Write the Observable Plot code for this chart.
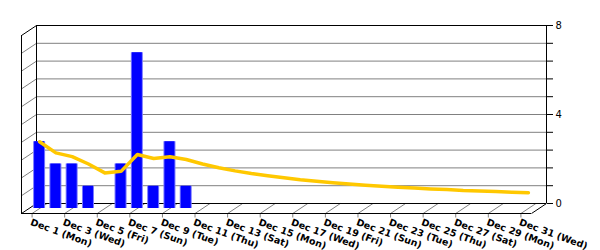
<!DOCTYPE html>
<html>
<head>
<meta charset="utf-8">
<script src="https://cdn.jsdelivr.net/npm/d3@7"></script>
<script src="https://cdn.jsdelivr.net/npm/@observablehq/plot@0.6"></script>
<style>
  html, body { margin: 0; padding: 0; background: #fff; }
  #chart { width: 600px; height: 250px; }
</style>
</head>
<body>
<div id="chart"></div>
<script>
// ---- data ----
const days = [1,2,3,4,5,6,7,8,9,10,11,12,13,14,15,16,17,18,19,20,21,22,23,24,25,26,27,28,29,30,31];
const counts = [3,2,2,1,0,2,7,1,3,1,0,0,0,0,0,0,0,0,0,0,0,0,0,0,0,0,0,0,0,0,0];
const average = [3,2.5,2.33,2,1.6,1.67,2.43,2.25,2.33,2.2,2,1.83,1.69,1.57,1.47,1.38,1.29,1.22,1.16,1.1,1.05,1,0.96,0.92,0.88,0.85,0.81,0.79,0.76,0.73,0.71];
const labelDays = [1,3,5,7,9,11,13,15,17,19,21,23,25,27,29,31];
const labelTexts = ["Dec 1 (Mon)","Dec 3 (Wed)","Dec 5 (Fri)","Dec 7 (Sun)","Dec 9 (Tue)","Dec 11 (Thu)","Dec 13 (Sat)","Dec 15 (Mon)","Dec 17 (Wed)","Dec 19 (Fri)","Dec 21 (Sun)","Dec 23 (Tue)","Dec 25 (Thu)","Dec 27 (Sat)","Dec 29 (Mon)","Dec 31 (Wed)"];
const yTicks = [0,0.8,1.6,2.4,3.2,4,4.8,5.6,6.4,7.2,8];
const yLabels = [0,4,8];

// ---- layout ----
const W = 600, H = 250, ML = 36, MR = 54, MT = 25, MB = 47;
const X0 = 0.35, X1 = 31.65, Y0 = 0, Y1 = 8;
const kx = (W - ML - MR) / (X1 - X0);
const ky = (H - MT - MB) / (Y1 - Y0);
const DEPTH_X = 15, DEPTH_Y = 10;
const ddx = DEPTH_X / kx, ddy = DEPTH_Y / ky;

const table = days.map((d, i) => ({day: d, count: counts[i], avg: average[i]}));
const bars = table.filter(d => d.count > 0);
const labels = labelDays.map((d, i) => ({day: d, text: labelTexts[i]}));
const innerTicks = yTicks.filter(v => v !== Y0 && v !== Y1);

const grid = "#808080";
const half1 = 6 / kx, half2 = 5 / kx;

const chart = Plot.plot({
  width: W, height: H,
  marginLeft: ML, marginRight: MR, marginTop: MT, marginBottom: MB,
  style: {fontFamily: "DejaVu Sans", fontSize: "10px", background: "white", overflow: "visible"},
  x: {domain: [X0, X1], axis: null},
  y: {domain: [Y0, Y1], axis: "right", ticks: yTicks, tickSize: 6, tickPadding: 3,
      tickFormat: v => yLabels.includes(v) ? String(v) : "", label: null},
  marks: [
    // back wall grid
    Plot.ruleY(innerTicks, {x1: X0, x2: X1, stroke: grid}),
    // left wall grid diagonals
    Plot.link(innerTicks, {x1: X0, y1: v => v, x2: X0 - ddx, y2: v => v - ddy, stroke: grid}),
    // floor diagonals and ticks
    Plot.link(labelDays, {x1: d => d, y1: 0, x2: d => d - ddx, y2: -ddy, stroke: grid}),
    Plot.link(labelDays, {x1: d => d - ddx, y1: -ddy, x2: d => d - ddx, y2: -ddy - 4 / ky, stroke: grid}),
    // frame edges
    Plot.ruleY([Y0, Y1], {x1: X0, x2: X1, stroke: "black"}),
    Plot.ruleX([X0, X1], {y1: Y0, y2: Y1, stroke: "black"}),
    Plot.ruleX([X0], {y1: Y0, y2: Y1, dx: -DEPTH_X, dy: DEPTH_Y, stroke: "black"}),
    Plot.ruleY([Y0], {x1: X0, x2: X1, dx: -DEPTH_X, dy: DEPTH_Y, stroke: "black"}),
    Plot.link([[X0, Y1], [X0, Y0], [X1, Y0]], {x1: p => p[0], y1: p => p[1], x2: p => p[0] - ddx, y2: p => p[1] - ddy, stroke: "black"}),
    // bars (mid depth)
    Plot.rect(bars, {x1: d => d.day - half1, x2: d => d.day + half1, y1: 0, y2: "count", dx: -DEPTH_X / 2, dy: DEPTH_Y / 2, fill: "#7878ff"}),
    Plot.rect(bars, {x1: d => d.day - half2, x2: d => d.day + half2, y1: 0, y2: "count", dx: -DEPTH_X / 2, dy: DEPTH_Y / 2, fill: "#0000ff"}),
    // average line
    Plot.line(table, {x: "day", y: "avg", dx: -DEPTH_X / 2, dy: DEPTH_Y / 2, stroke: "#ffc800", strokeWidth: 3.5, strokeLinejoin: "round", strokeLinecap: "round"}),
    // x labels
    Plot.text(labels, {x: d => d.day, y: 0, text: "text", dx: -DEPTH_X, dy: DEPTH_Y + 5, rotate: 20,
      textAnchor: "start", lineAnchor: "top", fontWeight: "bold", fontSize: 9.5, fill: "black"})
  ]
});
document.getElementById("chart").appendChild(chart);
</script>
</body>
</html>
